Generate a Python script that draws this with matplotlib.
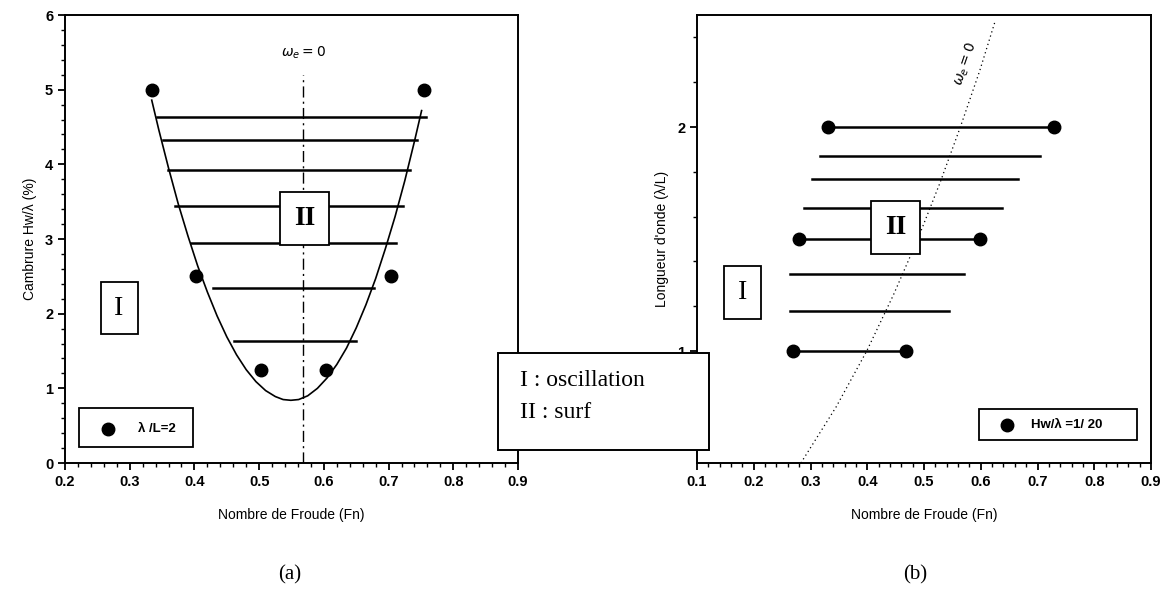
import matplotlib.pyplot as plt
from matplotlib.patches import Rectangle
from matplotlib.ticker import MultipleLocator, FixedLocator

# ---- (a) cambrure vs Froude, lambda/L = 2
curve_fn = [0.334, 0.345, 0.36, 0.375, 0.39, 0.405, 0.42, 0.435, 0.45, 0.465, 0.48, 0.495,
            0.51, 0.525, 0.537, 0.549, 0.561, 0.575, 0.59, 0.605, 0.62, 0.635, 0.65, 0.665,
            0.68, 0.695, 0.71, 0.725, 0.74, 0.751]
curve_h = [4.86, 4.46, 3.95, 3.47, 3.04, 2.64, 2.29, 1.97, 1.69, 1.45, 1.25, 1.09,
           0.97, 0.89, 0.85, 0.84, 0.85, 0.90, 1.00, 1.14, 1.32, 1.54, 1.81, 2.12,
           2.47, 2.87, 3.30, 3.78, 4.31, 4.72]
cut_h = [4.64, 4.33, 3.93, 3.44, 2.94, 2.35, 1.63]
cut_left = [0.342, 0.351, 0.359, 0.370, 0.395, 0.428, 0.461]
cut_right = [0.758, 0.744, 0.733, 0.722, 0.711, 0.677, 0.650]
dots_fn = [0.334, 0.754, 0.403, 0.704, 0.503, 0.603]
dots_h = [5, 5, 2.5, 2.5, 1.25, 1.25]
omega_a = 0.568

# ---- (b) longueur d'onde vs Froude, Hw/lambda = 1/20
seg_lam = [2.0, 1.87, 1.77, 1.64, 1.5, 1.345, 1.18, 1.0]
seg_left = [0.330, 0.317, 0.303, 0.289, 0.280, 0.263, 0.263, 0.269]
seg_right = [0.729, 0.705, 0.666, 0.638, 0.599, 0.570, 0.544, 0.468]
seg_dots = [True, False, False, False, True, False, False, True]
omega_fn = [0.283, 0.345, 0.399, 0.446, 0.489, 0.528, 0.564, 0.598, 0.625]
omega_lam = [0.5, 0.75, 1.0, 1.25, 1.5, 1.75, 2.0, 2.25, 2.47]

sans = 'Liberation Sans'
serif = 'Liberation Serif'

fig = plt.figure(figsize=(11.67, 6.01), dpi=100)
axa = fig.add_axes([0.0557, 0.2296, 0.3882, 0.7454])
axb = fig.add_axes([0.5973, 0.2296, 0.3890, 0.7454])

def style(ax):
    for s in ax.spines.values():
        s.set_linewidth(1.4)
    ax.tick_params(which='major', direction='out', length=5, width=1.3, top=False, right=False)
    ax.tick_params(which='minor', direction='out', length=3, width=1.0, top=False, right=False)
    for lab in ax.get_xticklabels() + ax.get_yticklabels():
        lab.set_fontfamily(sans)
        lab.set_fontweight('bold')
        lab.set_fontsize(10.5)

# (a)
axa.plot(curve_fn, curve_h, color='black', lw=1.2)
for h, l, r in zip(cut_h, cut_left, cut_right):
    axa.plot([l, r], [h, h], color='black', lw=1.8)
axa.plot([omega_a, omega_a], [0, 5.2], color='black', lw=1.0, ls=(0, (8, 3, 1.5, 3)))
axa.plot(dots_fn, dots_h, 'o', color='black', ms=9, ls='none', zorder=5)
axa.text(omega_a, 5.5, r'$\omega_e = 0$', ha='center', va='center', fontsize=10, family=serif)
axa.text(0.57, 3.28, 'II', ha='center', va='center', fontsize=20, family=serif, fontweight='bold',
         bbox=dict(boxstyle='square,pad=0.5', fc='white', ec='black', lw=1.3), zorder=6)
axa.text(0.2835, 2.075, 'I', ha='center', va='center', fontsize=20, family=serif,
         bbox=dict(boxstyle='square,pad=0.5', fc='white', ec='black', lw=1.3), zorder=6)
axa.add_patch(Rectangle((0.222, 0.21), 0.176, 0.53, fc='white', ec='black', lw=1.3, zorder=6))
axa.plot([0.267], [0.455], 'o', color='black', ms=9, zorder=7)
axa.text(0.313, 0.455, 'λ /L=2', ha='left', va='center', fontsize=9.5, family=sans,
         fontweight='bold', zorder=7)
axa.set_xlim(0.2, 0.9)
axa.set_ylim(0, 6)
axa.xaxis.set_major_locator(MultipleLocator(0.1))
axa.xaxis.set_minor_locator(MultipleLocator(0.02))
axa.yaxis.set_major_locator(MultipleLocator(1))
axa.yaxis.set_minor_locator(MultipleLocator(0.2))
axa.set_xlabel('Nombre de Froude (Fn)', family=sans, fontsize=10, labelpad=14)
axa.set_ylabel('Cambrure Hw/λ (%)', family=sans, fontsize=10, labelpad=6)
style(axa)

# (b)
axb.plot(omega_fn, omega_lam, color='black', lw=0.9, ls=(0, (1, 2.5)))
for lam, l, r, d in zip(seg_lam, seg_left, seg_right, seg_dots):
    axb.plot([l, r], [lam, lam], color='black', lw=1.8)
    if d:
        axb.plot([l, r], [lam, lam], 'o', color='black', ms=9, ls='none', zorder=5)
axb.text(0.574, 2.28, r'$\omega_e = 0$', ha='center', va='center', fontsize=10, family=serif,
         rotation=71, fontweight='bold')
axb.text(0.4505, 1.55, 'II', ha='center', va='center', fontsize=20, family=serif, fontweight='bold',
         bbox=dict(boxstyle='square,pad=0.5', fc='white', ec='black', lw=1.3), zorder=6)
axb.text(0.1805, 1.26, 'I', ha='center', va='center', fontsize=20, family=serif,
         bbox=dict(boxstyle='square,pad=0.5', fc='white', ec='black', lw=1.3), zorder=6)
axb.add_patch(Rectangle((0.596, 0.602), 0.28, 0.137, fc='white', ec='black', lw=1.3, zorder=6))
axb.plot([0.646], [0.67], 'o', color='black', ms=9, zorder=7)
axb.text(0.689, 0.67, 'Hw/λ =1/ 20', ha='left', va='center', fontsize=9.5, family=sans,
         fontweight='bold', zorder=7)
axb.set_xlim(0.1, 0.9)
axb.set_ylim(0.5, 2.5)
axb.xaxis.set_major_locator(MultipleLocator(0.1))
axb.xaxis.set_minor_locator(MultipleLocator(0.02))
axb.yaxis.set_major_locator(FixedLocator([1, 2]))
axb.yaxis.set_minor_locator(FixedLocator([0.6, 0.8, 1.2, 1.4, 1.6, 1.8, 2.2, 2.4]))
axb.set_xlabel('Nombre de Froude (Fn)', family=sans, fontsize=10, labelpad=14)
axb.set_ylabel("Longueur d'onde (λ/L)", family=sans, fontsize=10, labelpad=6)
style(axb)

# legend box between the two panels
fig.patches.append(Rectangle((0.4267, 0.2512), 0.1808, 0.1614, transform=fig.transFigure,
                             fc='white', ec='black', lw=1.4, zorder=10))
fig.text(0.4456, 0.367, 'I : oscillation', fontsize=17, family=serif, va='center', zorder=11)
fig.text(0.4456, 0.314, 'II : surf', fontsize=17, family=serif, va='center', zorder=11)

fig.text(0.2485, 0.043, '(a)', fontsize=15, family=serif, ha='center', va='center')
fig.text(0.784, 0.043, '(b)', fontsize=15, family=serif, ha='center', va='center')

fig.savefig('out.png', dpi=100)
